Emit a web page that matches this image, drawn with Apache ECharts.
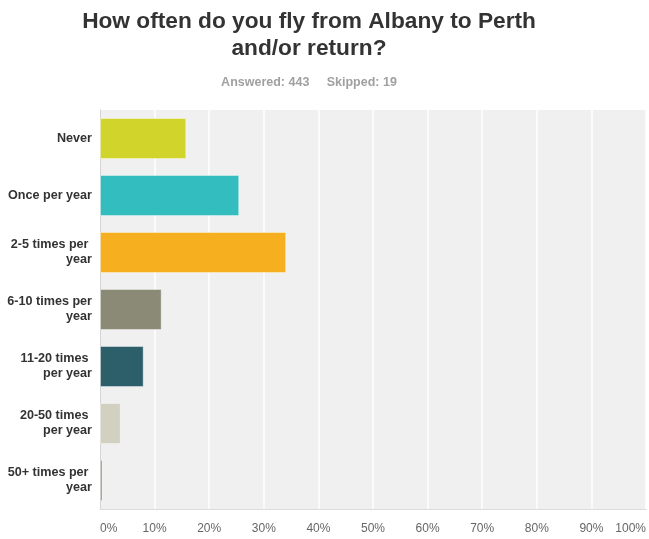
<!DOCTYPE html>
<html>
<head>
<meta charset="utf-8">
<title>How often do you fly from Albany to Perth and/or return?</title>
<script src="https://cdn.jsdelivr.net/npm/echarts@6/dist/echarts.min.js"></script>
<style>
  html, body { margin: 0; padding: 0; background: #ffffff; }
  #chart { width: 649px; height: 539px; }
</style>
</head>
<body>
<div id="chart"></div>
<script>
// Survey question and response summary
const questionTitle = 'How often do you fly from Albany to Perth\nand/or return?';
const answeredCount = 443;
const skippedCount = 19;

// Answer choices (top to bottom) and share of respondents, in percent
const categories = [
  'Never',
  'Once per year',
  '2-5 times per year',
  '6-10 times per year',
  '11-20 times per year',
  '20-50 times per year',
  '50+ times per year'
];
const percentages = [15.8, 25.5, 34.1, 11.3, 8.0, 3.8, 0.45];
const barColors = ['#d1d42b', '#33bdbf', '#f6b01f', '#8b8a77', '#2d5f6b', '#d1d0c1', '#8b8a77'];

// Percentage axis ticks
const tickMin = 0;
const tickMax = 100;
const tickStep = 10;

const FONT = '"Liberation Sans", Arial, Helvetica, sans-serif';

const chart = echarts.init(document.getElementById('chart'), null, { renderer: 'canvas' });

chart.setOption({
  animation: false,
  backgroundColor: '#ffffff',
  title: [
    {
      text: questionTitle,
      left: 304,
      top: 3,
      textAlign: 'center',
      textStyle: {
        fontFamily: FONT,
        fontSize: 22.7,
        fontWeight: 'bold',
        color: '#333333',
        lineHeight: 27
      }
    },
    {
      text: 'Answered: ' + answeredCount + '     Skipped: ' + skippedCount,
      left: 304,
      top: 71,
      textAlign: 'center',
      textStyle: {
        fontFamily: FONT,
        fontSize: 12.5,
        fontWeight: 'bold',
        color: '#a0a0a0'
      }
    }
  ],
  grid: {
    left: 100,
    top: 110,
    width: 548,
    height: 399,
    show: true,
    backgroundColor: '#f0f0f0',
    borderWidth: 0,
    containLabel: false
  },
  xAxis: {
    type: 'value',
    min: tickMin,
    max: tickMax,
    interval: tickStep,
    axisLine: { show: true, onZero: false, lineStyle: { color: '#dcdcdc', width: 1 } },
    axisTick: { show: false },
    splitLine: { show: true, lineStyle: { color: '#ffffff', width: 1.5 } },
    axisLabel: {
      formatter: '{value}%',
      fontFamily: FONT,
      fontSize: 12,
      color: '#666666',
      margin: 14,
      alignMinLabel: 'left',
      alignMaxLabel: 'right'
    }
  },
  yAxis: {
    type: 'category',
    inverse: true,
    data: categories,
    axisLine: { show: true, lineStyle: { color: '#d4d4d4', width: 1 } },
    axisTick: { show: false },
    splitLine: { show: false },
    axisLabel: {
      fontFamily: FONT,
      fontSize: 12.6,
      fontWeight: 'bold',
      color: '#333333',
      lineHeight: 15,
      margin: 8,
      width: 87,
      overflow: 'break',
      align: 'right'
    }
  },
  series: [
    {
      type: 'bar',
      barWidth: 41,
      data: percentages.map((v, i) => ({
        value: v,
        itemStyle: { color: barColors[i] }
      })),
      itemStyle: {
        borderColor: 'rgba(255,255,255,0.4)',
        borderWidth: 1
      },
      label: { show: false }
    }
  ]
});
</script>
</body>
</html>
